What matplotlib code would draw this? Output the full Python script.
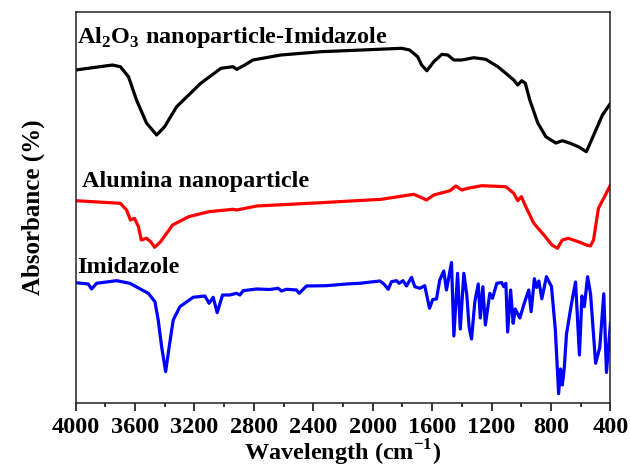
import matplotlib
matplotlib.use("Agg")
import matplotlib.pyplot as plt
from matplotlib.ticker import MultipleLocator

# FTIR spectra (wavenumber in cm-1, absorbance in arbitrary units, offset per curve)
wn_hybrid = [4000, 3752, 3699, 3644, 3590, 3523, 3455, 3401, 3320, 3158, 3022, 2942, 2915,
             2861, 2807, 2619, 2349, 2076, 1806, 1752, 1698, 1671, 1636, 1589, 1535, 1495,
             1454, 1401, 1320, 1239, 1158, 1104, 1051, 1024, 997, 973, 943, 889, 835, 768,
             724, 671, 617, 562, 508, 454, 400]
abs_hybrid = [333, 338, 336.3, 326.3, 303, 280, 268, 276.3, 296.3, 319.7, 334.7, 336.3, 333.7,
              338, 343, 348, 351.3, 353, 354.7, 353, 346.3, 338, 332.3, 341.3, 348.7, 348,
              343, 343, 345.3, 343.7, 336.3, 329.7, 323, 318, 322.3, 319.7, 303, 280, 266.3, 260,
              262.3, 259.7, 256.3, 251.3, 269.7, 288, 299.7]

wn_alumina = [4000, 3699, 3657, 3631, 3604, 3577, 3558, 3523, 3495, 3468, 3428, 3347, 3239,
              3103, 2942, 2915, 2780, 2349, 1941, 1725, 1685, 1638, 1589, 1480, 1441, 1401,
              1360, 1266, 1104, 1051, 1024, 1000, 970, 916, 848, 794, 757, 724, 684, 617,
              562, 535, 514, 481, 440, 400]
abs_alumina = [202.3, 199.7, 193, 183, 184.7, 176.3, 163, 164.7, 161.3, 155.7, 161.3, 178, 186.3,
               191.3, 193.7, 193, 197, 200.3, 203.7, 208.7, 206.3, 203, 208, 212.3, 217, 213,
               214.7, 217.3, 216.3, 209.7, 202.3, 206.3, 196.3, 179.7, 168, 158, 154.7, 163, 164.7, 161.3,
               158, 157, 163, 194.7, 206.3, 218]

wn_imidazole = [4000, 3915, 3892, 3859, 3724, 3635, 3511, 3466, 3444, 3421, 3394, 3370, 3343,
                3298, 3209, 3130, 3101, 3074, 3047, 3011, 2962, 2917, 2894, 2872, 2782, 2693,
                2637, 2614, 2580, 2513, 2495, 2446, 2311, 2176, 2087, 1952, 1925, 1896, 1874,
                1840, 1822, 1796, 1773, 1739, 1717, 1683, 1650, 1618, 1596, 1571, 1549, 1522,
                1504, 1470, 1454, 1429, 1411, 1387, 1367, 1351, 1335, 1313, 1290, 1276, 1259,
                1242, 1212, 1194, 1165, 1133, 1118, 1104, 1092, 1072, 1055, 1041, 1010, 977,
                950, 934, 912, 898, 882, 862, 831, 797, 771, 749, 736, 724, 711, 696, 662,
                635, 609, 592, 576, 554, 534, 500, 472, 445, 427, 400]
abs_imidazole = [120.3, 119, 114, 119.7, 122.3, 119.7, 109.7, 101.3, 83, 56.3, 31.3, 56.3, 83,
                 96.3, 105.7, 107, 99.7, 105.7, 90.3, 108, 108, 109.7, 108, 112.3, 114, 113.5,
                 114.7, 112, 113.7, 113, 109.7, 117, 117.3, 119, 119.7, 122, 119, 113.7, 121.3,
                 122.3, 119.7, 122.3, 117, 125.7, 116.3, 114.7, 117.3, 94.7, 103.5, 104, 123, 132,
                 113, 140.5, 67, 129.7, 74, 129.7, 108, 75.3, 64, 101.3, 119, 85, 116.3,
                 78, 109.7, 104.7, 119.7, 120.5, 116.3, 119.7, 71, 113, 79.7, 94, 85, 101.3,
                 113, 91.3, 124.3, 115.5, 122, 104.2, 126.3, 116.5, 73, 9.3, 34, 18, 35, 69, 99.7,
                 121, 48, 107, 96.3, 126.3, 109, 39.7, 55.5, 109.2, 30.5, 79.7]

labels = [r"Al$_\mathbf{2}$O$_\mathbf{3}$ nanoparticle-Imidazole",
          "Alumina nanoparticle",
          "Imidazole"]

plt.rcParams['font.family'] = ['Liberation Serif', 'DejaVu Serif']
plt.rcParams['font.weight'] = 'bold'
plt.rcParams['mathtext.fontset'] = 'custom'
plt.rcParams['mathtext.rm'] = 'Liberation Serif:bold'
plt.rcParams['mathtext.bf'] = 'Liberation Serif:bold'

fig = plt.figure(figsize=(6.3, 4.7), dpi=100)
ax = fig.add_axes([0.120, 0.1426, 0.849, 0.8312])

lw = 2.3
ax.plot(wn_hybrid, abs_hybrid, color='black', lw=lw, solid_joinstyle='round')
ax.plot(wn_alumina, abs_alumina, color='#ff0000', lw=lw, solid_joinstyle='round')
ax.plot(wn_imidazole, abs_imidazole, color='#0000ff', lw=lw, solid_joinstyle='round')

ax.text(3990, 360, labels[0], fontsize=17.5, fontweight='bold', va='baseline')
ax.text(3957, 216, labels[1], fontsize=17.5, fontweight='bold', va='baseline')
ax.text(3988, 130, labels[2], fontsize=17.5, fontweight='bold', va='baseline')

ax.set_xlim(4000, 400)
ax.set_ylim(0, 390.7)
ax.xaxis.set_major_locator(MultipleLocator(400))
ax.xaxis.set_minor_locator(MultipleLocator(200))
ax.set_yticks([])
ax.tick_params(axis='x', which='major', direction='out', length=6, width=1.1,
               labelsize=17.5, pad=4)
ax.tick_params(axis='x', which='minor', direction='out', length=3, width=1.1)
for lab in ax.get_xticklabels():
    lab.set_fontweight('bold')
for s in ax.spines.values():
    s.set_linewidth(1.1)
    s.set_color('#222222')

ax.set_xlabel(r"Wavelength (cm$^{\mathbf{-1}}$)", fontsize=17.5, fontweight='bold', labelpad=0)
ax.set_ylabel("Absorbance (%)", fontsize=18, fontweight='bold', labelpad=22)

fig.savefig("out.png", dpi=100)
